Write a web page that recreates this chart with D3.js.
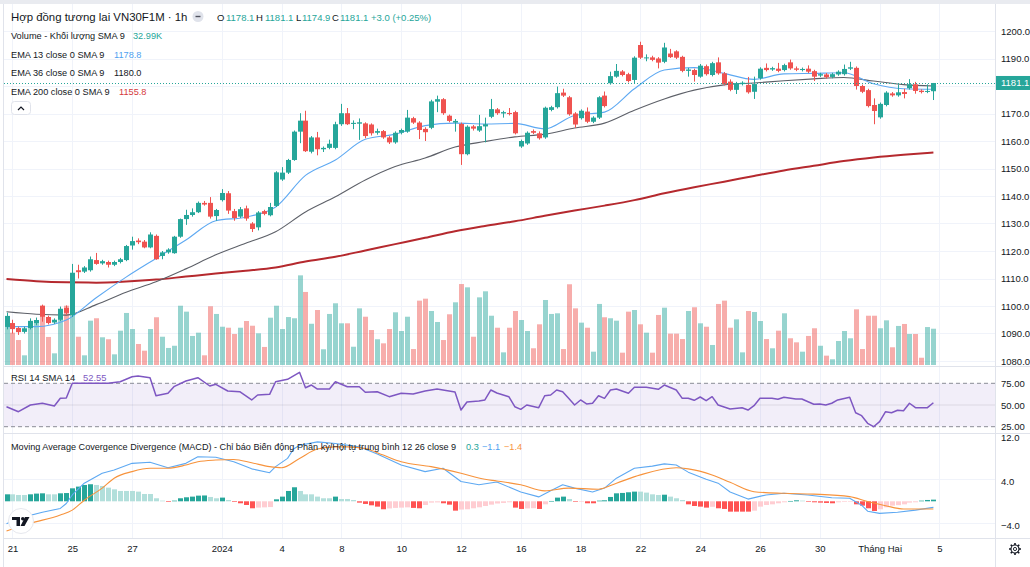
<!DOCTYPE html>
<html><head><meta charset="utf-8">
<script src="https://cdn.jsdelivr.net/npm/d3@7"></script>
<style>
html,body{margin:0;padding:0;background:#fff;overflow:hidden;}
svg{display:block;font-family:"Liberation Sans",Arial,sans-serif;}
</style></head><body>
<svg id="c" width="1030" height="567"></svg>
<script>
// ---------------- DATA ----------------
const opens = [
1092.4,1093.8,1092,1090.6,1092,1093.8,1100.1,1096,1094,1095,
1099.3,1096.7,1113,1112.5,1113,1116.7,1115.5,1116,1115,1116,
1116.7,1122,1123.8,1123.4,1121.3,1125.5,1118.2,1119.5,1119.2,1125.2,
1131.6,1133.1,1134.1,1137.5,1137.5,1132.7,1138.5,1141,1134.5,1132.5,
1135.5,1130,1128.6,1134.5,1133,1136.4,1146,1148.5,1153.1,1163.4,
1167.4,1156.1,1161.3,1157,1157.5,1157.5,1166.1,1170.1,1166.2,1166.3,
1166.4,1166,1163,1163.6,1161.3,1159.5,1163,1163.4,1168.3,1166.7,
1164.4,1164.8,1174.3,1175.2,1169.2,1166.7,1166.2,1155.2,1165.3,1163.8,
1165.3,1168.8,1171.5,1170,1170.2,1170.5,1158,1159.1,1163.6,1162.8,
1161.3,1171.3,1172.3,1177.6,1175.9,1170,1168.3,1170.7,1167,1168.5,
1176.5,1181,1183.4,1185.3,1184.3,1182.2,1194.9,1190.1,1190.4,1190,
1188.8,1191.8,1192.6,1190.6,1185.5,1185.8,1183.4,1187.2,1184,1188.6,
1184.6,1181.6,1178.6,1180.7,1180.4,1177.9,1182.8,1186.6,1186,1186.3,
1185.8,1188.6,1186.4,1185.8,1186.3,1185.4,1183.8,1184.2,1183.3,1184.2,
1184.3,1186.3,1186.6,1180,1178.5,1173.1,1168.6,1173.1,1177.3,1176.6,
1177.8,1179.2,1180.6,1178.3,1177.9,1178.1];
const highs = [
1097.6,1095,1092.5,1092.5,1095.5,1095.8,1100.5,1096.5,1095.5,1099.8,
1100.2,1115.3,1115,1114.5,1118,1119.3,1116.8,1116.5,1116.5,1117.5,
1122.2,1125.2,1124.6,1124,1126.8,1126,1120,1121,1125.5,1131.8,
1135,1135.5,1138,1138.2,1139.6,1135.3,1142.5,1141.8,1135.3,1136,
1136.5,1130.5,1134.5,1135,1137.5,1149,1150.5,1153.5,1163.8,1170.1,
1171,1161.8,1163.3,1158,1160.5,1167,1173.5,1172,1167.5,1168.2,
1166.8,1166.4,1164.5,1164,1161.8,1163.5,1164.5,1171.3,1168.8,1167.2,
1165,1175,1176.5,1175.6,1169.6,1168,1166.7,1165.7,1165.8,1169.5,
1168.5,1175.3,1172,1171,1172,1171,1160.5,1163.5,1164.2,1163.5,
1172.5,1172.8,1179.8,1179,1176.4,1170.5,1171.5,1172.2,1169,1176.3,
1178,1185.2,1188,1185.8,1184.8,1190.8,1196.1,1191.5,1191,1190.5,
1195.7,1193.5,1193,1191,1186.6,1186.3,1188,1187.8,1188.8,1190.4,
1185.1,1182.4,1181.5,1181.7,1183.3,1183.4,1186.8,1188.2,1187,1188.4,
1188.1,1189.6,1187.1,1186.7,1187.5,1185.9,1184.8,1184.7,1184.8,1185.7,
1187.8,1188.8,1187.1,1180.5,1179,1175.5,1174,1178.1,1177.8,1180.6,
1179,1182.5,1181.5,1178.8,1180.6,1181.1];
const lows = [
1091.5,1090,1089.5,1090,1091.5,1093,1094.3,1093.3,1093.5,1094.5,
1096.8,1096,1110,1112,1112.5,1115,1115,1114,1114.5,1115.5,
1116.3,1120.5,1122.5,1121,1121,1116.8,1117,1119,1119,1124.8,
1129.5,1132.5,1133.8,1136.5,1131.8,1131,1138,1133.5,1131,1132,
1131,1126.9,1127.5,1133,1132.6,1136,1145.5,1148,1152.8,1159.2,
1156,1155.5,1154.8,1156,1157,1157,1165.5,1165.8,1164.3,1160.4,
1161,1162,1162.3,1160.8,1158.9,1159,1162.4,1163,1166.2,1160.7,
1160,1164.3,1170.5,1169.5,1166.8,1163.4,1151.3,1154.8,1163.8,1163.3,
1159.5,1168.3,1169.5,1168.5,1169.3,1162.4,1157.5,1158.6,1162.5,1160.5,
1160.8,1170.8,1171.8,1176,1169.2,1164.8,1167.8,1166.5,1166.5,1168,
1172.2,1180.5,1183,1183.5,1181.3,1180.9,1189.8,1189,1189,1186.4,
1188.3,1190.2,1189.8,1185,1183.4,1181.6,1183,1183.8,1183.5,1184.1,
1180.2,1178.1,1177.1,1180.2,1177.2,1175.3,1182.3,1185.3,1185.5,1185,
1185.3,1185.9,1185.4,1185.3,1184.7,1181.8,1183.3,1182.7,1182.8,1183.7,
1183.8,1185.8,1178.7,1177.4,1172.2,1166.1,1168.1,1172.6,1176.1,1176.1,
1175.5,1178.7,1177.2,1177.3,1177.4,1174.9];
const closes = [
1096.4,1091.6,1090.5,1091.9,1094.6,1094.9,1096.1,1093.8,1095,1099,
1097.5,1112.1,1112.3,1114,1117,1115.3,1116.3,1115,1116,1117,
1121.8,1123.6,1123.2,1121.3,1126,1117,1119.5,1120.5,1125.2,1131.6,
1133.1,1134.1,1137.5,1136.9,1132.5,1134.9,1141.1,1134.7,1132,1135.2,
1131.8,1128,1134,1133.5,1136,1148.6,1148.5,1153.1,1163.4,1167.4,
1156.3,1161.3,1157,1157.5,1159,1166.1,1170.1,1166.1,1166.6,1166.8,
1161.8,1162.8,1163.6,1161.3,1159.5,1163,1164,1168.5,1166.7,1164,
1163.2,1174.4,1175.2,1170.1,1167.3,1167.3,1155.2,1165.2,1164.5,1165.4,
1166.1,1171.6,1170.1,1170.5,1169.8,1162.8,1160,1163,1163,1161,
1172.1,1172.3,1177.4,1176.5,1169.7,1166,1171,1167,1168.5,1175.9,
1172.7,1183.6,1185.5,1184,1181.8,1190.3,1190.3,1190.4,1189.5,1188.5,
1194,1190.5,1190.3,1185.5,1186,1184,1187.4,1184.3,1188.3,1184.6,
1180.7,1178.6,1181,1181.2,1177.7,1180.7,1186.3,1185.8,1186.5,1185.5,
1187.6,1186.4,1185.9,1186.2,1185.2,1183.4,1184.3,1183.2,1184.3,1185.2,
1186.2,1186.8,1180,1177.9,1172.7,1170.9,1173.5,1177.6,1176.6,1177.7,
1177.1,1180.6,1178.2,1177.8,1178.2,1181.1];
const volumes = [ // thousands
35.7,29.4,22.7,8.8,40,40.9,53.9,25.5,10.6,50,
53.9,54.5,25.7,8.8,40.3,42.5,25.2,23.4,9.7,31.2,
47.3,32.7,19.1,13,32.7,43.4,25.7,15.5,17.5,53.9,
48.5,26.4,29.4,8.8,53.4,46.4,34.8,33.9,28.2,33.9,
40,35.7,28.8,16.4,43,53.9,32.7,43.6,42.5,81.5,
66.4,37.5,50,14.3,46.4,56.1,37.9,37.9,16.6,51.5,
43.9,31.8,23.4,19.7,32.7,47.9,30.9,43.9,14.5,58.5,
60.3,49.1,39.1,22.7,46.1,57,73.6,70.6,25.7,61.5,
67,44.8,33.9,11.5,33.9,49.1,40.9,30.9,15.2,37,
59.1,46.4,47,14.5,73.4,51.5,38.5,33.9,12.1,55.5,
43.4,42.5,40.3,11.2,48.5,50,37,29.4,11.2,45.5,
52.1,28.5,28.5,23.6,49.1,52.5,37.9,34.8,18.2,55.5,
58.5,33.9,41.5,11.5,49.1,48.2,40,23.6,15.2,31.2,
47,24.3,20.6,12.1,26.4,33.4,17.5,8.5,5.2,21.8,
30.9,24.3,50.6,14.5,44.8,44.8,33.4,40.6,16.1,35.5,
37.3,28.2,28.2,6.6,34.5,32.99];

// moving averages read every 5 bars
const emaIdx = [0,5,10,15,20,25,30,35,40,45,50,55,60,65,70,75,80,85,90,95,100,105,110,115,120,125,130,135,140,145,150,155];
const ema13 = [1092.5,1092.5,1094.9,1103.0,1110.5,1117.3,1124.0,1131.0,1132.3,1136.0,1147.5,1153.1,1160.6,1162.5,1165.6,1166.5,1166.2,1166.4,1164.4,1169.3,1170.5,1179.0,1185.8,1186.7,1184.6,1182.4,1184.4,1184.6,1184.8,1180.8,1179.0,1178.8];
const ema36 = [1097.9,1097.0,1096.7,1100.5,1105.0,1108.8,1113.5,1118.6,1122.8,1127.0,1134.2,1139.7,1145.8,1150.7,1153.8,1157.8,1159.8,1161.5,1162.5,1164.7,1166.5,1171.2,1175.3,1178.5,1180.4,1181.1,1181.9,1182.6,1183.1,1181.8,1180.5,1180.0];
const ema200 = [1109.8,1109.0,1108.6,1108.5,1108.9,1109.6,1110.7,1111.8,1112.8,1114.0,1116.2,1117.9,1120.2,1122.5,1124.8,1127.2,1129.1,1130.8,1132.8,1134.7,1136.5,1138.5,1141.0,1143.2,1145.2,1147.3,1149.3,1151.0,1152.7,1154.0,1155.0,1155.8];

// RSI (bar index, value)
const rsiIdx = [0,2,4,6,8,9,10,11,17,19,21,22,24,25,27,28,30,32,34,35,37,39,41,42,44,45,47,49,50,51,52,54,55,57,59,60,62,64,66,68,70,72,74,75,76,77,79,80,81,82,84,85,86,87,89,90,91,92,93,94,95,96,97,98,99,100,101,102,104,105,107,109,110,112,113,114,115,116,117,118,119,121,123,124,125,126,128,129,130,132,133,135,136,137,138,139,141,142,143,144,145,146,147,148,149,150,151,152,154,155];
const rsiVal = [48,42.3,50,52,48.8,57.7,58,75,75,76.8,82.6,83.4,81.5,60.7,63.5,71.1,77.6,81.5,71.9,73.8,66.1,65.3,55.8,61.5,62.3,76.8,79.6,87.7,69.9,73,68.4,68.4,76.8,71.1,71.1,64.6,65.3,59.6,63.5,62.7,66.1,68.4,66.1,65,44.2,53.5,54.6,55.8,67.3,63.8,59.6,48,45,50,46.9,60.7,61.5,67.3,65.3,57.7,50,55.8,51.2,52,60.7,57.7,67.3,68.4,63.5,70.4,70.4,68.1,73,67.3,57.7,57.7,55.4,59.2,55,59.6,50,45.4,46.9,44.2,49.2,57.7,57.7,56.6,58.9,56.9,56.9,50.8,51.2,50,52,55.8,58.9,41.1,37.7,28.9,25,30.8,42.3,41.1,43.9,43.4,52,46.9,46.9,52.55];

// MACD line and signal (bar index, value)
const macdIdx = [0,2,6,9,10,11,13,16,18,21,24,27,30,32,35,38,41,44,45,47,48,49,52,55,59,62,66,70,73,76,79,82,86,89,91,93,95,98,100,102,105,108,110,112,114,117,119,121,124,127,130,134,138,141,143,144,146,149,152,155];
const macdVal = [-4.1,-3.1,-2.0,-1.3,-0.4,1.15,3.3,5.1,5.7,6.9,7.1,6.1,6.9,8.1,8.0,7.2,5.9,5.2,6.3,7.8,9.5,10.2,10.8,10.5,9.9,8.6,6.6,5.4,6.0,3.6,3.0,3.5,1.7,0.8,1.9,3.0,2.4,1.7,2.4,4.2,6.0,6.4,6.8,6.6,5.3,4.0,3.3,1.7,0.4,1.15,1.45,1.15,0.65,0.55,-0.7,-1.8,-2.2,-2.0,-1.6,-1.1];
const signalIdx = [0,4,9,11,13,16,18,21,24,27,30,32,35,38,41,44,46,49,52,55,57,60,63,66,71,76,80,82,86,90,94,99,102,106,112,114,118,121,125,130,135,141,144,147,150,155];
const signalVal = [-5.4,-4.0,-2.5,-1.6,0.2,2.4,4.2,5.4,6.0,6.0,6.6,7.2,7.5,7.6,7.0,6.3,6.1,7.8,9.5,9.9,9.9,9.6,8.4,7.2,6.3,5.1,4.0,3.7,3.0,1.9,2.4,2.2,3.3,4.8,6.1,5.9,4.8,3.45,1.75,1.45,1.3,0.85,-0.05,-0.8,-1.4,-1.4];
const histogram = [
1.27,1.27,1.15,1.15,1.27,1.4,1.45,1.27,1.27,1.45,
1.5,2.36,2.67,2.97,3.1,2.97,2.79,2.48,2.18,1.88,
1.88,1.88,1.76,1.33,1.33,0.55,0.12,-0.12,0.12,0.55,
0.73,0.85,1.03,1.06,0.79,0.55,0.67,0.24,-0.12,-0.36,
-0.67,-1.27,-1.15,-1.1,-1.05,0.36,0.85,1.88,2.55,1.88,
1.27,1.27,0.85,0.55,0.55,0.85,0.42,0.42,0.24,-0.24,
-0.48,-0.73,-0.97,-1.45,-1.3,-1.2,-1.15,-1.1,-1.2,-1.27,
-0.67,-0.24,-0.2,-0.36,-0.61,-1.7,-1.5,-1.45,-1.27,-1.09,
-0.85,-0.61,-0.4,-0.3,-0.18,-1.15,-1.39,-1.3,-1.25,-1.39,
-0.55,0.06,0.67,0.85,0.42,-0.06,-0.05,-0.36,-0.36,0.12,
0.18,0.79,1.45,1.52,1.64,1.76,1.76,1.58,1.27,1.15,
1.2,0.85,0.55,0.24,-0.55,-0.85,-0.97,-1.15,-1.0,-1.27,
-1.39,-1.88,-1.88,-1.88,-1.88,-1.7,-0.97,-0.67,-0.55,-0.36,
-0.18,0.06,0.18,0.12,-0.06,-0.18,-0.24,-0.3,-0.36,-0.18,
-0.12,-0.06,-0.55,-0.79,-1.27,-1.76,-1.45,-1.09,-0.79,-0.7,
-0.55,-0.24,-0.18,0.12,0.24,0.3];

// ticks and labels
const timeIdx = [1,11,21,36,46,56,66,76,86,96,106,116,126,136,146,156];
const timeLabels = ["21","25","27","2024","4","8","10","12","16","18","22","24","26","30","Tháng Hai","5"];
const priceTicks = [1080,1090,1100,1110,1120,1130,1140,1150,1160,1170,1190,1200];
const rsiTicks = [75,50,25];
const macdTicks = [12,4,-4];
const lastPrice = 1181.1;
const titleText = "Hợp đồng tương lai VN30F1M · 1h";
const macdTitle = "Moving Average Covergence Divergence (MACD) - Chỉ báo Biến động Phân kỳ/Hội tụ trung bình 12 26 close 9";

// ---------------- LAYOUT ----------------
const svg = d3.select("#c");
const AX = 995;
const UP = "#26a69a", DN = "#ef5350", GRID = "#f0f3fa", SEP = "#e0e3eb", TXT = "#131722";
const x = d3.scaleLinear().domain([0,155]).range([6.5,933.4]);
const yP = d3.scaleLinear().domain([1080,1200]).range([361,31]);
const yV = d3.scaleLinear().domain([0,100]).range([365,255]);
const yR = d3.scaleLinear().domain([25,75]).range([426.7,383.3]);
const yM = d3.scaleLinear().domain([-4,4]).range([523.3,479.3]);

const defs = svg.append("defs");
function clip(id, x0, y0, w, h){ defs.append("clipPath").attr("id",id).append("rect").attr("x",x0).attr("y",y0).attr("width",w).attr("height",h); }
clip("cMain",4,4,AX-4,362); clip("cRsi",4,366,AX-4,67); clip("cMacd",4,433,AX-4,105);
clip("aRsi",AX,366,35,64); clip("aMacd",AX,433,35,105);

svg.append("rect").attr("width",1030).attr("height",567).attr("fill","#fff");

// grid
const grid = svg.append("g");
priceTicks.concat([1180]).forEach(p=>{
  grid.append("line").attr("x1",4).attr("x2",AX).attr("y1",Math.round(yP(p))+0.5).attr("y2",Math.round(yP(p))+0.5).attr("stroke",GRID);
});
timeIdx.forEach(i=>{
  const xx = Math.round(x(i))+0.5;
  grid.append("line").attr("x1",xx).attr("x2",xx).attr("y1",4).attr("y2",538).attr("stroke",GRID);
});
[4,-4].forEach(v=>grid.append("line").attr("x1",4).attr("x2",AX).attr("y1",Math.round(yM(v))+0.5).attr("y2",Math.round(yM(v))+0.5).attr("stroke",GRID));

// ---------- main pane ----------
const gm = svg.append("g").attr("clip-path","url(#cMain)");
const idx = d3.range(opens.length);
gm.selectAll("rect.vol").data(idx).join("rect")
  .attr("x",i=>Math.round(x(i))-2).attr("width",5)
  .attr("y",i=>yV(volumes[i])).attr("height",i=>yV(0)-yV(volumes[i]))
  .attr("fill",i=>closes[i]>=opens[i]?UP:DN).attr("fill-opacity",0.48);

function maLine(vals, color, w){
  const pts = emaIdx.map((k,j)=>[x(k), yP(vals[j])]);
  gm.append("path").attr("d", d3.line().curve(d3.curveMonotoneX)(pts))
    .attr("fill","none").attr("stroke",color).attr("stroke-width",w);
}
maLine(ema200,"#b5292e",2);
maLine(ema36,"#5d6068",1.1);
maLine(ema13,"#5ea9f2",1.1);

gm.selectAll("line.wick").data(idx).join("line")
  .attr("x1",i=>Math.round(x(i))+0.5).attr("x2",i=>Math.round(x(i))+0.5)
  .attr("y1",i=>yP(highs[i])).attr("y2",i=>yP(lows[i]))
  .attr("stroke",i=>closes[i]>=opens[i]?UP:DN);
gm.selectAll("rect.body").data(idx).join("rect")
  .attr("x",i=>Math.round(x(i))-2).attr("width",5)
  .attr("y",i=>yP(Math.max(opens[i],closes[i])))
  .attr("height",i=>Math.max(1,Math.abs(yP(opens[i])-yP(closes[i]))))
  .attr("fill",i=>closes[i]>=opens[i]?UP:DN);

// last price line
svg.append("line").attr("x1",4).attr("x2",AX).attr("y1",Math.round(yP(lastPrice))+0.5).attr("y2",Math.round(yP(lastPrice))+0.5)
  .attr("stroke",UP).attr("stroke-dasharray","1,2");

// ---------- RSI pane ----------
const gr = svg.append("g").attr("clip-path","url(#cRsi)");
gr.append("rect").attr("x",4).attr("width",AX-4).attr("y",yR(75)).attr("height",yR(25)-yR(75)).attr("fill","rgba(126,87,194,0.1)");
[75,25].forEach(v=>gr.append("line").attr("x1",4).attr("x2",AX).attr("y1",yR(v)).attr("y2",yR(v)).attr("stroke","#8a8d96").attr("stroke-dasharray","4,3"));
gr.append("line").attr("x1",4).attr("x2",AX).attr("y1",yR(50)).attr("y2",yR(50)).attr("stroke","rgba(120,123,134,0.18)");
gr.append("path").attr("d", d3.line()(rsiIdx.map((k,j)=>[x(k), yR(rsiVal[j])])))
  .attr("fill","none").attr("stroke","#7e57c2").attr("stroke-width",1.5).attr("stroke-linejoin","round");

// ---------- MACD pane ----------
const gd = svg.append("g").attr("clip-path","url(#cMacd)");
gd.selectAll("rect.h").data(idx).join("rect")
  .attr("x",i=>Math.round(x(i))-2).attr("width",5)
  .attr("y",i=>Math.min(yM(0),yM(histogram[i])))
  .attr("height",i=>Math.max(0.6,Math.abs(yM(histogram[i])-yM(0))))
  .attr("fill",i=>{
    const h=histogram[i], p=i>0?histogram[i-1]:h-1;
    if(h>=0) return p<h?"#26a69a":"#b2dfdb";
    return p<h?"#ffcdd2":"#ff5252";
  });
gd.append("path").attr("d", d3.line()(macdIdx.map((k,j)=>[x(k), yM(macdVal[j])])))
  .attr("fill","none").attr("stroke","#5ea9f2").attr("stroke-width",1.1).attr("stroke-linejoin","round");
gd.append("path").attr("d", d3.line().curve(d3.curveMonotoneX)(signalIdx.map((k,j)=>[x(k), yM(signalVal[j])])))
  .attr("fill","none").attr("stroke","#f7933c").attr("stroke-width",1.1);

// ---------- separators / frame ----------
svg.append("rect").attr("x",0).attr("y",0).attr("width",1030).attr("height",4).attr("fill","#e9ebf0");
svg.append("line").attr("x1",3.5).attr("x2",3.5).attr("y1",4).attr("y2",567).attr("stroke",SEP);
[366,433,538].forEach(yy=>svg.append("line").attr("x1",4).attr("x2",1030).attr("y1",yy+0.5).attr("y2",yy+0.5).attr("stroke",SEP));
svg.append("line").attr("x1",AX+0.5).attr("x2",AX+0.5).attr("y1",4).attr("y2",567).attr("stroke",SEP);

// ---------- axes ----------
function styleAxis(g){ g.select(".domain").remove(); g.selectAll("text").attr("fill",TXT).attr("font-size","9.5px").attr("font-family","Liberation Sans, Arial, sans-serif"); g.selectAll("line").remove(); }
svg.append("g").attr("transform",`translate(${AX},0)`)
  .call(d3.axisRight(yP).tickValues(priceTicks).tickSize(0).tickPadding(6).tickFormat(d3.format(".1f"))).call(styleAxis);
svg.append("g").attr("clip-path","url(#aRsi)").append("g").attr("transform",`translate(${AX},0)`)
  .call(d3.axisRight(yR).tickValues(rsiTicks).tickSize(0).tickPadding(6).tickFormat(d3.format(".2f"))).call(styleAxis);
svg.append("g").attr("clip-path","url(#aMacd)").append("g").attr("transform",`translate(${AX},2)`)
  .call(d3.axisRight(yM).tickValues(macdTicks).tickSize(0).tickPadding(6).tickFormat(d3.format(".1f"))).call(styleAxis);
svg.append("g").attr("transform","translate(0,538)")
  .call(d3.axisBottom(x).tickValues(timeIdx).tickSize(0).tickPadding(7).tickFormat((d,i)=>timeLabels[i])).call(styleAxis);

// last price label
const ly = yP(lastPrice);
svg.append("rect").attr("x",AX+1).attr("y",ly-7).attr("width",34).attr("height",14).attr("fill",UP);
svg.append("text").attr("x",AX+6).attr("y",ly+3.5).attr("fill","#fff").attr("font-size","9.5px").text(d3.format(".1f")(lastPrice));

// ---------- legends ----------
function t(xx,yy,str,col,size){ return svg.append("text").attr("x",xx).attr("y",yy).attr("fill",col).attr("font-size",size+"px").text(str); }
t(11,21,titleText,TXT,11.4);
svg.append("circle").attr("cx",198).attr("cy",16.5).attr("r",5.5).attr("fill","#e0e3eb");
svg.append("line").attr("x1",195.5).attr("x2",200.5).attr("y1",16.5).attr("y2",16.5).attr("stroke","#50535e").attr("stroke-width",1.4);
const ohlc = [["O",217,226,opens[155]],["H",256,265,highs[155]],["L",296,302,lows[155]],["C",332,340,closes[155]]];
ohlc.forEach(([k,xk,xv,v])=>{ t(xk,20.5,k,TXT,9.5); t(xv,20.5,d3.format(".1f")(v),UP,9.5); });
t(371,20.5,"+3.0 (+0.25%)",UP,9.5);

t(11,39,"Volume - Khối lượng SMA 9",TXT,9.2); t(133,39,"32.99K",UP,9.2);
t(11,57.5,"EMA 13 close 0 SMA 9",TXT,9.2); t(114,57.5,d3.format(".1f")(ema13[ema13.length-1]),"#4e9ff0",9.2);
t(11,76,"EMA 36 close 0 SMA 9",TXT,9.2); t(114,76,d3.format(".1f")(ema36[ema36.length-1]),TXT,9.2);
t(11,94.5,"EMA 200 close 0 SMA 9",TXT,9.2); t(119,94.5,d3.format(".1f")(ema200[ema200.length-1]),"#d5393b",9.2);

// collapse button
svg.append("rect").attr("x",11.5).attr("y",101.5).attr("width",19).attr("height",13).attr("rx",3).attr("fill","#fff").attr("stroke","#e0e3eb");
svg.append("path").attr("d","M18,110 L21,107 L24,110").attr("fill","none").attr("stroke",TXT).attr("stroke-width",1.2);

t(11,381,"RSI 14 SMA 14",TXT,9.4); t(83,381,rsiVal[rsiVal.length-1].toFixed(2),"#7e57c2",9.4);
const mt = t(11,450,macdTitle,TXT,9.4);
const natural = mt.node().getComputedTextLength();
if (natural > 445) mt.attr("font-size", (9.4*445/natural).toFixed(2)+"px");
t(466,450,d3.format(".1f")(histogram[155]),UP,9.2);
t(482,450,d3.format(".1f")(macdVal[macdVal.length-1]),"#4e9ff0",9.2);
t(504,450,d3.format(".1f")(signalVal[signalVal.length-1]),"#f7933c",9.2);

// TradingView logo
const lg = svg.append("g").attr("transform","translate(21,521)");
lg.append("circle").attr("r",12.5).attr("fill","#fff").attr("stroke","#e6e8ee");
lg.append("path").attr("d","M-9,-4 h8 v9 h-3.5 v-6 h-4.5 z M4,-4 h4.5 l-5,9 h-4 z").attr("fill","#131722");
lg.append("circle").attr("cx",1.8).attr("cy",-2.2).attr("r",1.8).attr("fill","#131722");

// gear
const gg = svg.append("g").attr("transform","translate(1015,549)");
d3.range(8).forEach(k=>{ const a=k*Math.PI/4; gg.append("line").attr("x1",Math.cos(a)*4).attr("y1",Math.sin(a)*4).attr("x2",Math.cos(a)*6).attr("y2",Math.sin(a)*6).attr("stroke",TXT).attr("stroke-width",1.6); });
gg.append("circle").attr("r",4).attr("fill","#fff").attr("stroke",TXT).attr("stroke-width",1.1);
gg.append("circle").attr("r",1.6).attr("fill","none").attr("stroke",TXT).attr("stroke-width",0.9);
</script>
</body></html>
